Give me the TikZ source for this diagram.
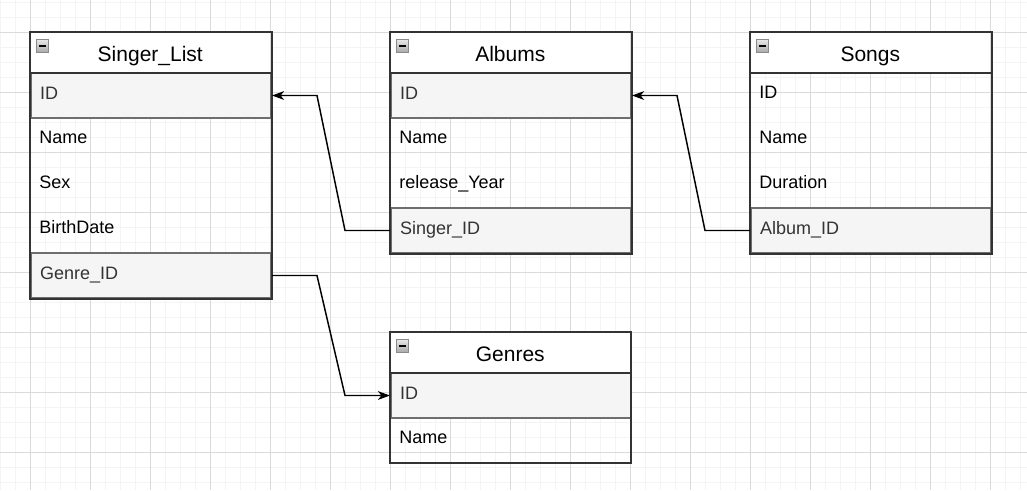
\documentclass[tikz,border=0pt]{standalone}
\usepackage{fontspec}
\setmainfont{Liberation Sans}
\usetikzlibrary{arrows.meta,calc}
\definecolor{gridminor}{HTML}{F4F4F4}
\definecolor{gridmajor}{HTML}{DADADA}
\definecolor{rowgray}{HTML}{F5F5F5}
\definecolor{rowline}{HTML}{6E6E6E}
\definecolor{boxline}{HTML}{333333}
\definecolor{icontop}{HTML}{E8E8E8}
\definecolor{iconbot}{HTML}{A8A8A8}
\definecolor{iconline}{HTML}{8A8A8A}
\begin{document}
\begin{tikzpicture}[x=0.75pt,y=-0.75pt,
  field/.style={rectangle, anchor=north west, minimum height=33.75pt,
    text width=166.5pt, inner xsep=6.75pt, inner ysep=0pt, align=left,
    text height=9.75pt, text depth=4.5pt,
    font=\fontsize{13.5}{16}\selectfont, text=black},
  keyfield/.style={field, fill=rowgray, draw=rowline, line width=1.5pt, text=boxline},
  head/.style={rectangle, anchor=north west, fill=white, minimum width=180pt,
    minimum height=30pt, inner sep=0pt, text height=15pt, text depth=1.05pt,
    font=\fontsize{15.75}{18}\selectfont},
  tableframe/.style={draw=boxline, line width=1.5pt},
  collapse/.style={rectangle, minimum size=9.5pt, inner sep=0pt, draw=iconline,
    line width=0.6pt, top color=icontop, bottom color=iconbot,
    path picture={\draw[black, line width=1.3pt]
      ([xshift=2pt]path picture bounding box.west) --
      ([xshift=-2pt]path picture bounding box.east);}},
  link/.style={draw=black, line width=1.1pt,
    -{Stealth[length=9pt, width=6.5pt, inset=2.5pt]}}
]
\useasboundingbox (0,0) rectangle (1027,490);
% grid
\foreach \x in {0,15,...,1020} \draw[gridminor, line width=0.75pt] (\x,0) -- (\x,490);
\foreach \y in {2,17,...,482} \draw[gridminor, line width=0.75pt] (0,\y) -- (1027,\y);
\foreach \x in {30,90,...,990} \draw[gridmajor, line width=0.75pt] (\x,0) -- (\x,490);
\foreach \y in {32,92,...,452} \draw[gridmajor, line width=0.75pt] (0,\y) -- (1027,\y);

% Singer_List
\node[head] (singerHead) at (30,32) {Singer\_List};
\node[field] (singerName) at (30,117) {Name};
\node[field] (singerSex) at (30,162) {Sex};
\node[field] (singerBirth) at (30,207) {BirthDate};
\node[keyfield] (singerID) at (30,72) {ID};
\node[keyfield] (singerGenre) at (30,252) {Genre\_ID};
\draw[tableframe] (singerHead.north west) rectangle (singerGenre.south east);
\draw[tableframe] (singerHead.south west) -- (singerHead.south east);
\node[collapse] (singerIcon) at (42.5,46) {};

% Albums
\node[head] (albHead) at (390,32) {Albums};
\node[field] (albName) at (390,117) {Name};
\node[field] (albYear) at (390,162) {release\_Year};
\node[keyfield] (albID) at (390,72) {ID};
\node[keyfield] (albSinger) at (390,207) {Singer\_ID};
\draw[tableframe] (albHead.north west) rectangle (albSinger.south east);
\draw[tableframe] (albHead.south west) -- (albHead.south east);
\node[collapse] (albIcon) at (402.5,46) {};

% Songs
\node[head] (songHead) at (750,32) {Songs};
\node[field] (songID) at (750,72) {ID};
\node[field] (songName) at (750,117) {Name};
\node[field] (songDur) at (750,162) {Duration};
\node[keyfield] (songAlbum) at (750,207) {Album\_ID};
\draw[tableframe] (songHead.north west) rectangle (songAlbum.south east);
\draw[tableframe] (songHead.south west) -- (songHead.south east);
\node[collapse] (songIcon) at (762.5,46) {};

% Genres
\node[head] (genHead) at (390,332) {Genres};
\node[field] (genName) at (390,417) {Name};
\node[keyfield] (genID) at (390,372) {ID};
\draw[tableframe] (genHead.north west) rectangle (genName.south east);
\draw[tableframe] (genHead.south west) -- (genHead.south east);
\node[collapse] (genIcon) at (402.5,346) {};

% connectors
\draw[link] (albSinger.west) -- ++(-45,0) -- ($(singerID.east)+(45,0)$) -- (singerID.east);
\draw[link] (songAlbum.west) -- ++(-45,0) -- ($(albID.east)+(45,0)$) -- (albID.east);
\draw[link] (singerGenre.east) -- ++(45,0) -- ($(genID.west)+(-45,0)$) -- (genID.west);
\end{tikzpicture}
\end{document}
